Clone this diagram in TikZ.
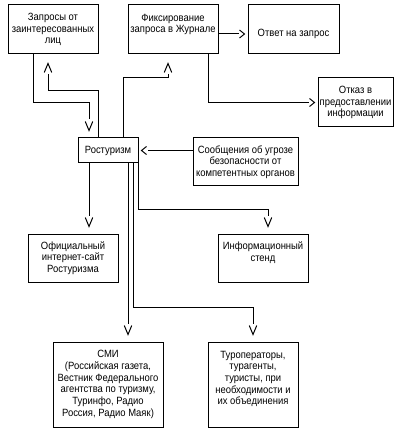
\documentclass[tikz,border=0pt]{standalone}
\usepackage{fontspec}
\setmainfont{Liberation Sans}[FakeStretch=0.9]
\usetikzlibrary{arrows.meta}
\pgfdeclarearrow{
  name = ChevV,
  setup code = {
    \pgfarrowssettipend{0pt}
    \pgfarrowssetlineend{-11pt}
    \pgfarrowssetbackend{-9pt}
    \pgfarrowshullpoint{0pt}{0pt}
    \pgfarrowshullpoint{-9pt}{3.75pt}
    \pgfarrowshullpoint{-9pt}{-3.75pt}
  },
  drawing code = {
    \pgfpathmoveto{\pgfqpoint{-9pt}{3.75pt}}
    \pgfpathlineto{\pgfqpoint{0pt}{0pt}}
    \pgfpathlineto{\pgfqpoint{-9pt}{-3.75pt}}
    \pgfusepathqstroke
  }
}
\pgfdeclarearrow{
  name = ChevH,
  setup code = {
    \pgfarrowssettipend{0pt}
    \pgfarrowssetlineend{-6pt}
    \pgfarrowssetbackend{-5pt}
    \pgfarrowshullpoint{0pt}{0pt}
    \pgfarrowshullpoint{-5pt}{4pt}
    \pgfarrowshullpoint{-5pt}{-4pt}
  },
  drawing code = {
    \pgfpathmoveto{\pgfqpoint{-5pt}{4pt}}
    \pgfpathlineto{\pgfqpoint{0pt}{0pt}}
    \pgfpathlineto{\pgfqpoint{-5pt}{-4pt}}
    \pgfusepathqstroke
  }
}
\tikzset{
  box/.style={draw, line width=1pt, inner sep=0pt, align=center,
    font=\fontsize{10.5}{11.7}\selectfont},
  con/.style={line width=1pt},
  vd/.style={con, -{ChevV}, shorten >=7pt},
  vu/.style={con, -{ChevV}, shorten >=9pt},
  ha/.style={con, -{ChevH}, shorten >=3pt},
}
\begin{document}
\begin{tikzpicture}[x=1pt, y=-1pt]
\useasboundingbox[fill=white] (0,0) rectangle (402,435);
% boxes
\node[box, minimum width=90, minimum height=49] (zap) at (53,29.5)
  {Запросы от\\заинтересованных\\лиц};
\node[box, minimum width=90, minimum height=49] (fix) at (173,29.5)
  {Фиксирование\\запроса в Журнале\\[-3pt]\strut};
\node[box, minimum width=91, minimum height=49] (otv) at (293.5,29.5)
  {\strut\\[-3pt]Ответ на запрос};
\node[box, minimum width=75, minimum height=49] (otk) at (355.5,102.5)
  {Отказ в\\предоставлении\\информации};
\node[box, minimum width=60, minimum height=25] (ros) at (108,150.5)
  {Ростуризм};
\node[box, minimum width=105, minimum height=48] (soo) at (245.5,162)
  {Сообщения об угрозе\\безопасности от\\компетентных органов};
\node[box, minimum width=90, minimum height=48] (off) at (73,258)
  {Официальный\\интернет-сайт\\Ростуризма};
\node[box, minimum width=90, minimum height=48] (inf) at (263,258)
  {Информационный\\стенд\\[-2pt]\strut};
\node[box, minimum width=110, minimum height=85] (smi) at (108,384.5)
  {СМИ\\(Российская газета,\\Вестник Федерального\\агентства по туризму,\\Туринфо, Радио\\Россия, Радио Маяк)};
\node[box, minimum width=90, minimum height=85] (tur) at (253,384.5)
  {Туроператоры,\\турагенты,\\туристы, при\\необходимости и\\их объединения\\[-2pt]\strut};
% connectors
\draw[vd] ([xshift=-20pt]zap.south) -- ++(0,48) -| ([xshift=-19pt]ros.north);
\draw[vu] ([xshift=-10pt]ros.north) -- ++(0,-47) -| ([xshift=-5pt]zap.south);
\draw[vu] ([xshift=15pt]ros.north) -- ++(0,-60) -| ([xshift=-5pt]fix.south);
\draw[ha] ([yshift=-4.5pt]fix.east) -- ([yshift=-4.5pt]otv.west);
\draw[ha] ([xshift=35pt]fix.south) |- (otk.west);
\draw[ha] (soo.west |- ros.east) -- (ros.east);
\draw[vd] ([xshift=-19pt]ros.south) -- ([xshift=16pt]off.north);
\draw[vd] (ros.south east) -- ++(0,46) -| ([xshift=5pt]inf.north);
\draw[vd] ([xshift=20pt]ros.south) -- ([xshift=20pt]smi.north);
\draw[vd] ([xshift=25pt]ros.south) -- ++(0,144) -| (tur.north);
\end{tikzpicture}
\end{document}
